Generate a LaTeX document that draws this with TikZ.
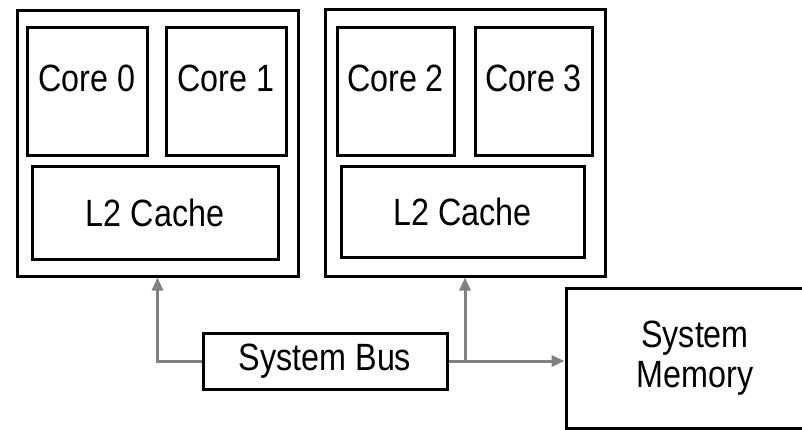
\documentclass[tikz,border=0pt]{standalone}
\usepackage{fontspec}
\setmainfont{Liberation Sans}[FakeStretch=0.85]
\usetikzlibrary{arrows.meta,positioning}
\tikzstyle{unit}=[
	rectangle,
	draw=black,
	line width=1.5pt,
	inner sep=0pt,
	font=\fontsize{19}{20}\selectfont
]
\tikzstyle{core}=[
	unit,
	minimum width=60pt,
	minimum height=64pt,
	text height=2ex,
	text depth=2ex
]
\tikzstyle{link}=[
	draw=black!50,
	line width=1.5pt,
	-{Triangle[width=5.5pt,length=6.5pt]}
]

\begin{document}
\begin{tikzpicture}[x=0.5pt,y=-0.5pt]
\useasboundingbox (0,0) rectangle (802,429);
\clip (0,0) rectangle (802,429);
% the two dual-core packages
\node [unit, minimum width=140.5pt, minimum height=133pt] (pkgA) at (157.5,143) {};
\node [unit, minimum width=140pt, minimum height=133.5pt] (pkgB) at (465,142.5) {};
\node [core] (core0) at (87,91) {Core 0};
\node [core] (core1) [right=8pt of core0] {Core 1};
\node [core, minimum width=58.5pt] (core2) at (395.5,91) {Core 2};
\node [core, minimum width=58.5pt] (core3) [right=9pt of core2] {Core 3};
\node [unit, minimum width=123pt, minimum height=46.5pt] (cacheA) at (155,212.5) {L2 Cache};
\node [unit, minimum width=121.5pt, minimum height=45.5pt] (cacheB) at (462.5,211.5) {L2 Cache};
% bus and memory
\node [unit, minimum width=122pt, minimum height=28pt] (bus) at (325,361) {System Bus};
\node [unit, minimum width=129pt, minimum height=70pt, align=center] (mem) at (695,358) {System\\Memory};
\draw [link] (bus.west) -| (pkgA.south);
\draw [link] (bus.east) -- (bus.east -| mem.west);
\draw [link] (bus.east -| pkgB.south) -- (pkgB.south);
\end{tikzpicture}
\end{document}
